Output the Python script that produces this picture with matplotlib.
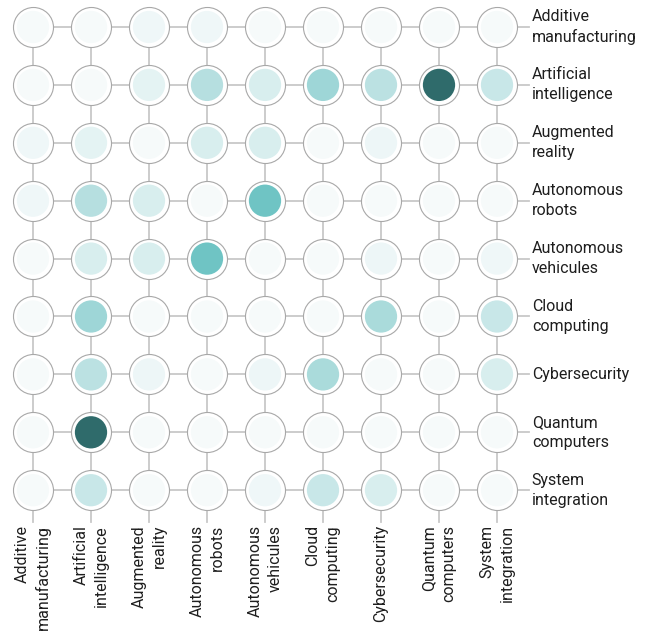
import matplotlib.pyplot as plt
from matplotlib.colors import LinearSegmentedColormap
from matplotlib import font_manager

techs = ["Additive\nmanufacturing", "Artificial\nintelligence", "Augmented\nreality",
         "Autonomous\nrobots", "Autonomous\nvehicules", "Cloud\ncomputing",
         "Cybersecurity", "Quantum\ncomputers", "System\nintegration"]

# co-occurrence strength (0..1)
strength = [
    [0.02, 0.02, 0.05, 0.05, 0.02, 0.02, 0.02, 0.02, 0.02],
    [0.02, 0.02, 0.10, 0.30, 0.15, 0.40, 0.28, 1.00, 0.22],
    [0.05, 0.10, 0.02, 0.15, 0.15, 0.02, 0.06, 0.02, 0.02],
    [0.05, 0.30, 0.15, 0.02, 0.60, 0.02, 0.02, 0.02, 0.02],
    [0.02, 0.15, 0.15, 0.60, 0.02, 0.02, 0.06, 0.02, 0.05],
    [0.02, 0.40, 0.02, 0.02, 0.02, 0.02, 0.35, 0.02, 0.22],
    [0.02, 0.28, 0.06, 0.02, 0.06, 0.35, 0.02, 0.02, 0.15],
    [0.02, 1.00, 0.02, 0.02, 0.02, 0.02, 0.02, 0.02, 0.02],
    [0.02, 0.22, 0.02, 0.02, 0.05, 0.22, 0.15, 0.02, 0.02],
]

names = {f.name for f in font_manager.fontManager.ttflist}
fam = "Liberation Sans Narrow" if "Liberation Sans Narrow" in names else "Roboto"
plt.rcParams["font.family"] = [fam, "DejaVu Sans"]

cmap = LinearSegmentedColormap.from_list(
    "teal", [(0, "#fafcfc"), (0.3, "#b6dfe0"), (0.6, "#6fc4c4"), (1.0, "#2f6b6b")])

n = len(techs)
fig = plt.figure(figsize=(6.5, 6.35), dpi=100)
ax = fig.add_axes([0, 0, 1, 1])
ax.set_xlim(-33 / 58, (650 - 33) / 58)
ax.set_ylim((635 - 27) / 57.9, -27 / 57.9)
ax.axis("off")

line_c = "#c8c8c8"
for i in range(n):
    ax.plot([0, 8.55], [i, i], color=line_c, lw=1.3, zorder=1)
    ax.plot([i, i], [0, 8.55], color=line_c, lw=1.3, zorder=1)

xs, ys, vals = [], [], []
for r in range(n):
    for c in range(n):
        xs.append(c)
        ys.append(r)
        vals.append(strength[r][c])

ax.scatter(xs, ys, s=830, facecolor="white", edgecolor="#a8a8a8", linewidth=0.8, zorder=2)
ax.scatter(xs, ys, s=540, c=vals, cmap=cmap, vmin=0, vmax=1, linewidth=0, zorder=3)

for i, t in enumerate(techs):
    ax.text(8.6, i, t, ha="left", va="center", fontsize=11.5, color="#1e1e1e",
            linespacing=1.4)
    ax.text(i, 8.6, t, ha="center", va="top", rotation=90, fontsize=11.5,
            color="#1e1e1e", multialignment="right", linespacing=1.4)

fig.savefig("out.png", dpi=100)
